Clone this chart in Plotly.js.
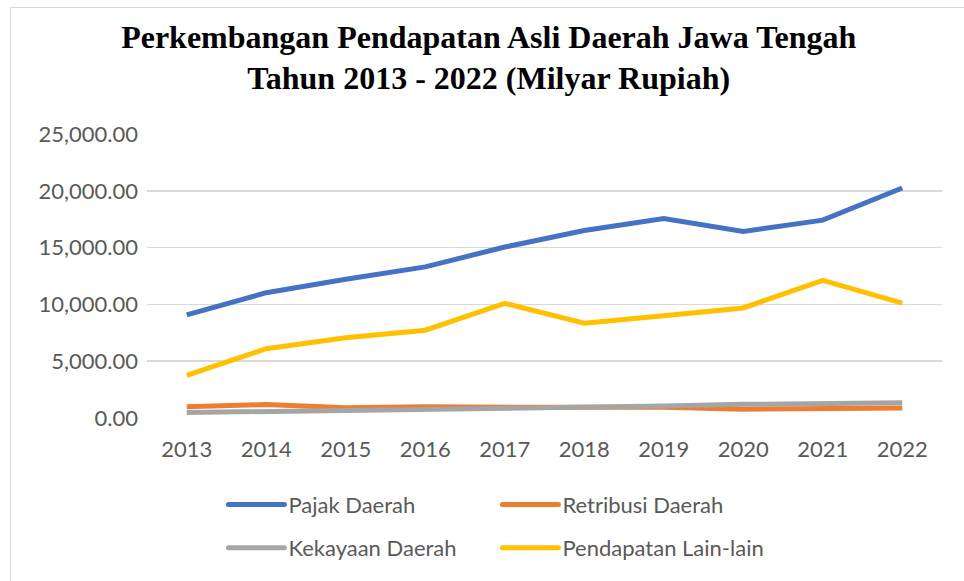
<!DOCTYPE html>
<html>
<head>
<meta charset="utf-8">
<script src="https://cdn.plot.ly/plotly-3.0.1.min.js"></script>
<style>
  html, body { margin: 0; padding: 0; background: #fff; }
  #chart { width: 964px; height: 581px; position: absolute; left: 0; top: 0; }
  #frame { position: absolute; left: 10px; top: 7px; width: 1000px; height: 600px;
           border-left: 1.5px solid #D9D9D9; border-top: 1.5px solid #D9D9D9; pointer-events: none; }
</style>
</head>
<body>
<div id="chart"></div>
<div id="frame"></div>
<script>
const years = ["2013","2014","2015","2016","2017","2018","2019","2020","2021","2022"];
const pajakDaerah = [9070, 11030, 12220, 13300, 15050, 16510, 17560, 16420, 17420, 20250];
const retribusiDaerah = [1000, 1180, 900, 1000, 950, 950, 950, 780, 780, 880];
const kekayaanDaerah = [480, 560, 640, 760, 900, 950, 1050, 1200, 1250, 1350];
const pendapatanLain = [3760, 6100, 7060, 7730, 10090, 8340, 9010, 9690, 12110, 10120];

const names = ["Pajak Daerah", "Retribusi Daerah", "Kekayaan Daerah", "Pendapatan Lain-lain"];
const colors = ["#4472C4", "#ED7D31", "#A5A5A5", "#FFC000"];
const series = [pajakDaerah, retribusiDaerah, kekayaanDaerah, pendapatanLain];
const legends = ["legend", "legend", "legend2", "legend2"];

const textFont = "Lato, 'Open Sans', sans-serif";

const traces = series.map((vals, i) => ({
  type: "scatter",
  mode: "lines",
  x: years,
  y: vals,
  name: names[i],
  legend: legends[i],
  line: { color: colors[i], width: 5 },
  hoverinfo: "x+y+name"
}));

const legendCommon = {
  orientation: "h",
  xanchor: "left",
  yanchor: "middle",
  x: 0.115,
  entrywidth: 219,
  entrywidthmode: "pixels",
  font: { family: textFont, size: 22, color: "#595959" },
  bgcolor: "rgba(0,0,0,0)",
  itemwidth: 40,
  traceorder: "normal"
};

const layout = {
  width: 964,
  height: 581,
  margin: { l: 147, r: 22, t: 134, b: 161 },
  paper_bgcolor: "#ffffff",
  plot_bgcolor: "#ffffff",
  title: {
    text: "<b>Perkembangan Pendapatan Asli Daerah Jawa Tengah<br>Tahun 2013 - 2022 (Milyar Rupiah)</b>",
    font: { family: "'Liberation Serif', 'Times New Roman', serif", size: 32, color: "#000000" },
    x: 0.507,
    xanchor: "center",
    xref: "container",
    y: 0.918,
    yanchor: "middle",
    yref: "container"
  },
  xaxis: {
    type: "category",
    range: [-0.5, 9.5],
    showgrid: false,
    zeroline: false,
    showline: false,
    ticks: "",
    ticklabelstandoff: 16,
    tickfont: { family: textFont, size: 22, color: "#595959" }
  },
  yaxis: {
    range: [0, 25000],
    tickvals: [0, 5000, 10000, 15000, 20000, 25000],
    tickformat: ",.2f",
    showgrid: true,
    gridcolor: "#D9D9D9",
    gridwidth: 1.5,
    zeroline: false,
    showline: false,
    ticks: "",
    ticklabelstandoff: 8,
    tickfont: { family: textFont, size: 22, color: "#595959" }
  },
  legend: Object.assign({}, legendCommon, { y: -0.305 }),
  legend2: Object.assign({}, legendCommon, { y: -0.458 }),
  showlegend: true
};

Plotly.newPlot("chart", traces, layout, { displayModeBar: false, staticPlot: true }).then(gd => {
  // let the legend keys extend past the legend box, and lengthen them like Excel keys
  gd.querySelectorAll(".legend .scrollbox, .legend2 .scrollbox, .legend, .legend2").forEach(el => {
    el.removeAttribute("clip-path");
  });
  gd.querySelectorAll("[clip-path]").forEach(el => {
    if (el.closest(".infolayer")) el.removeAttribute("clip-path");
  });
  gd.querySelectorAll(".legendlines path").forEach(p => {
    p.setAttribute("d", "M-10,0h56");
    p.style.strokeLinecap = "round";
  });
});
</script>
</body>
</html>
